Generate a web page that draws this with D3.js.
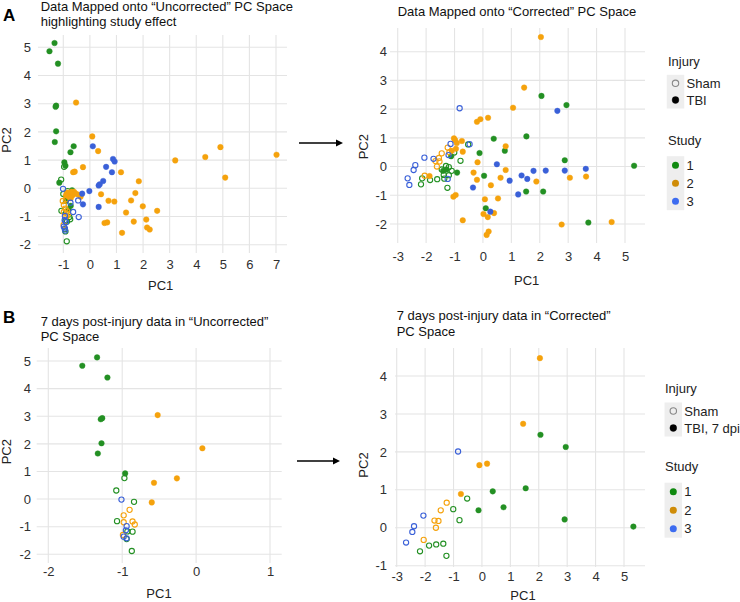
<!DOCTYPE html>
<html><head><meta charset="utf-8">
<script src="https://cdn.jsdelivr.net/npm/d3@7"></script>
<style>body{margin:0;background:#fff;} svg{display:block;font-family:"Liberation Sans",Arial,sans-serif;}</style>
</head><body><svg id="c" width="740" height="602"></svg>
<script>
// ---------- data: [PC1, PC2, study, sham(1) / TBI(0)] ----------
const uncorrectedAll = [
  // study 1 TBI
  [-1.33,5.15,1,0],[-1.52,4.86,1,0],[-1.20,4.42,1,0],[-1.27,2.93,1,0],[-1.29,2.89,1,0],[-1.27,2.02,1,0],[-1.32,1.64,1,0],[-0.96,0.92,1,0],
  [-0.61,1.49,1,0],[-0.73,1.28,1,0],[-0.92,0.80,1,0],[-1.15,0.20,1,0],[-0.67,-0.07,1,0],[-0.88,-0.30,1,0],[-0.72,-0.62,1,0],[-0.80,-0.75,1,0],[-0.90,-0.45,1,0],
  // study 1 sham
  [-0.97,0.76,1,1],[-1.08,0.31,1,1],[-0.84,-0.10,1,1],[-1.07,-0.80,1,1],[-0.86,-1.18,1,1],[-0.93,-1.17,1,1],[-0.94,-1.45,1,1],[-0.87,-1.88,1,1],
  [-0.77,-1.02,1,1],[-0.74,-1.10,1,1],[-0.92,-1.53,1,1],[-1.00,-0.20,1,1],
  // study 2 TBI
  [-0.52,3.04,2,0],[0.09,1.84,2,0],[-0.26,0.75,2,0],[-0.57,0.59,2,0],[-0.60,-0.12,2,0],[0.31,1.32,2,0],[-0.63,0.57,2,0],[1.17,0.57,2,0],
  [3.21,0.99,2,0],[4.34,1.11,2,0],[4.91,1.46,2,0],[5.09,0.38,2,0],[7.02,1.19,2,0],[1.84,0.25,2,0],[1.71,-0.17,2,0],[0.42,-0.21,2,0],
  [0.70,-0.44,2,0],[0.92,-0.47,2,0],[1.55,-0.43,2,0],[1.99,-0.64,2,0],[2.53,-0.80,2,0],[1.36,-0.86,2,0],[1.65,-1.18,2,0],[2.12,-1.11,2,0],
  [0.55,-1.23,2,0],[0.65,-1.21,2,0],[2.15,-1.39,2,0],[2.25,-1.46,2,0],[1.21,-1.58,2,0],
  [-0.85,-0.15,2,0],[-0.78,-0.20,2,0],[-0.70,-0.12,2,0],[-0.65,-0.25,2,0],[-0.55,-0.18,2,0],[-0.45,-0.22,2,0],[-0.35,-0.30,2,0],[-0.80,-0.30,2,0],[-0.90,-0.25,2,0],[-0.72,-0.35,2,0],
  // study 2 sham
  [-0.90,-0.39,2,1],[-0.98,-0.59,2,1],[-0.98,-0.84,2,1],[-0.86,-0.81,2,1],[-0.83,-0.92,2,1],[-0.99,-1.30,2,1],[-0.92,-0.72,2,1],[-1.02,-0.45,2,1],[-0.88,-1.00,2,1],
  // study 3 TBI
  [0.11,1.49,3,0],[0.87,1.04,3,0],[0.93,0.95,3,0],[0.61,0.76,3,0],[0.83,0.57,3,0],[0.50,0.26,3,0],[0.33,0.10,3,0],[0.37,0.14,3,0],
  [-0.02,-0.10,3,0],[-0.29,-0.19,3,0],[-0.26,-0.57,3,0],[0.33,-0.66,3,0],
  // study 3 sham
  [-1.01,-0.02,3,1],[-0.94,-0.98,3,1],[-0.95,-1.13,3,1],[-0.98,-1.36,3,1],[-0.94,-1.42,3,1],[-0.44,-0.43,3,1],[-0.73,-0.51,3,1],
  [-0.63,-0.84,3,1],[-0.42,-1.02,3,1],[-0.90,-1.20,3,1],[-0.93,-1.50,3,1]
];
const correctedAll = [
  // study 1 TBI
  [2.06,2.46,1,0],[2.94,2.14,1,0],[0.38,0.97,1,0],[1.53,1.05,1,0],[-0.12,0.47,1,0],[0.77,0.55,1,0],[2.88,0.22,1,0],[5.32,0.03,1,0],
  [-0.91,-0.21,1,0],[0.04,-0.32,1,0],[1.52,-0.87,1,0],[2.12,-0.87,1,0],[0.10,-1.45,1,0],[3.71,-1.95,1,0],[-1.12,0.36,1,0],[-1.40,-0.15,1,0],[-1.28,-0.10,1,0],
  // study 1 sham
  [-0.52,0.77,1,1],[-1.01,0.49,1,1],[-0.79,0.20,1,1],[-2.18,-0.62,1,1],[-1.86,-0.47,1,1],[-1.61,-0.44,1,1],[-1.36,-0.42,1,1],[-1.25,-0.74,1,1],
  [-2.14,-0.41,1,1],[-1.38,-0.29,1,1],[-1.20,-0.02,1,1],[-1.10,-0.15,1,1],[-1.30,0.02,1,1],[-1.45,-0.10,1,1],[-1.20,-0.30,1,1],
  // study 2 TBI
  [2.04,4.51,2,0],[1.45,2.75,2,0],[1.06,2.05,2,0],[-0.21,1.56,2,0],[-0.09,1.65,2,0],[0.18,1.70,2,0],[-0.74,0.89,2,0],[-1.02,0.98,2,0],
  [-0.98,0.92,2,0],[-0.92,0.82,2,0],[-0.71,0.52,2,0],[0.80,0.71,2,0],[-0.19,0.15,2,0],[0.80,-0.12,2,0],[-0.33,-0.21,2,0],[-0.21,-0.46,2,0],
  [0.28,-0.65,2,0],[0.62,-0.39,2,0],[1.88,-0.52,2,0],[3.06,-0.39,2,0],[3.63,-0.35,2,0],[0.07,-1.14,2,0],[0.53,-1.11,2,0],[-1.04,-1.05,2,0],
  [-0.96,-0.99,2,0],[0.39,-1.62,2,0],[0.02,-1.65,2,0],[0.17,-1.76,2,0],[-0.71,-1.87,2,0],[0.20,-2.26,2,0],[0.13,-2.38,2,0],[2.77,-2.02,2,0],
  [4.53,-1.93,2,0],[-1.88,-0.33,2,0],[-1.10,0.55,2,0],[-0.95,0.62,2,0],
  // study 2 sham
  [-1.24,0.66,2,1],[-1.45,0.46,2,1],[-1.67,0.19,2,1],[-1.53,0.18,2,1],[-1.62,0.00,2,1],[-2.05,-0.32,2,1],[-1.18,0.50,2,1],[-1.55,0.30,2,1],
  // study 3 TBI
  [2.62,1.94,3,0],[0.49,0.08,3,0],[-0.35,-0.73,3,0],[0.94,-0.49,3,0],[1.36,-0.31,3,0],[1.56,-0.43,3,0],[1.78,-0.15,3,0],[2.21,-0.14,3,0],
  [2.88,-0.14,3,0],[3.62,-0.08,3,0],[1.24,-0.97,3,0],[0.26,-1.57,3,0],
  // study 3 sham
  [-0.82,2.03,3,1],[-0.47,0.78,3,1],[-1.14,0.79,3,1],[-2.06,0.31,3,1],[-1.74,0.27,3,1],[-2.38,0.05,3,1],[-2.44,-0.12,3,1],[-2.65,-0.41,3,1],
  [-2.59,-0.64,3,1],[-1.21,0.40,3,1],[-1.24,-0.43,3,1]
];
const uncorrected7dpi = [
  [-1.34,5.13,1,0],[-1.54,4.83,1,0],[-1.20,4.40,1,0],[-1.29,2.89,1,0],[-1.27,2.93,1,0],[-1.28,2.02,1,0],[-1.33,1.65,1,0],[-0.96,0.93,1,0],
  [-0.97,0.76,1,1],[-1.08,0.31,1,1],[-0.84,-0.10,1,1],[-1.07,-0.80,1,1],[-0.86,-1.18,1,1],[-0.93,-1.17,1,1],[-0.94,-1.45,1,1],[-0.87,-1.88,1,1],
  [-0.52,3.04,2,0],[0.085,1.84,2,0],[-0.26,0.75,2,0],[-0.57,0.59,2,0],[-0.60,-0.12,2,0],
  [-0.90,-0.39,2,1],[-0.98,-0.59,2,1],[-0.98,-0.84,2,1],[-0.86,-0.81,2,1],[-0.83,-0.92,2,1],[-0.99,-1.30,2,1],
  [-1.01,-0.02,3,1],[-0.94,-0.98,3,1],[-0.95,-1.13,3,1],[-0.98,-1.36,3,1],[-0.94,-1.42,3,1]
];
const corrected7dpi = [
  [-0.12,0.46,1,0],[0.38,0.96,1,0],[0.76,0.54,1,0],[1.54,1.04,1,0],[2.06,2.45,1,0],[2.95,2.13,1,0],[2.91,0.22,1,0],[5.33,0.03,1,0],
  [-0.52,0.77,1,1],[-1.01,0.49,1,1],[-0.79,0.20,1,1],[-2.18,-0.62,1,1],[-1.86,-0.47,1,1],[-1.61,-0.44,1,1],[-1.36,-0.42,1,1],[-1.25,-0.74,1,1],
  [2.04,4.47,2,0],[1.45,2.74,2,0],[-0.09,1.65,2,0],[0.18,1.69,2,0],[-0.74,0.89,2,0],
  [-1.24,0.66,2,1],[-1.45,0.46,2,1],[-1.67,0.19,2,1],[-1.53,0.18,2,1],[-1.62,0.00,2,1],[-2.05,-0.32,2,1],
  [-0.84,2.01,3,1],[-2.06,0.32,3,1],[-2.39,0.04,3,1],[-2.45,-0.11,3,1],[-2.67,-0.39,3,1]
];
const studyLabels = ["1","2","3"];
const injuryLabelsA = ["Sham","TBI"];
const injuryLabelsB = ["Sham","TBI, 7 dpi"];
const ticksA1x = [-1,0,1,2,3,4,5,6,7], ticksA1y = [-2,-1,0,1,2,3,4,5];
const ticksA2x = [-3,-2,-1,0,1,2,3,4,5], ticksA2y = [-2,-1,0,1,2,3,4];
const ticksB1x = [-2,-1,0,1], ticksB1y = [-2,-1,0,1,2,3,4,5];
const ticksB2x = [-3,-2,-1,0,1,2,3,4,5], ticksB2y = [-1,0,1,2,3,4];

// ---------- styles ----------
const pointColors = {1:"#239023", 2:"#f5a20c", 3:"#3a60d8"};
const keyColors = ["#108a10","#cf8c08","#3d6cf0"];
const svg = d3.select("#c");
const FS = 13;

function panel(data, o){
  const x = d3.scaleLinear().domain(o.xd).range(o.xr);
  const y = d3.scaleLinear().domain(o.yd).range(o.yr);
  const g = svg.append("g");
  g.selectAll(".vg").data(o.xt).join("line")
    .attr("x1",d=>x(d)).attr("x2",d=>x(d)).attr("y1",o.top).attr("y2",o.bottom)
    .attr("stroke","#e4e4e4").attr("stroke-width",1.1);
  g.selectAll(".hg").data(o.yt).join("line")
    .attr("y1",d=>y(d)).attr("y2",d=>y(d)).attr("x1",o.left).attr("x2",o.right)
    .attr("stroke","#e4e4e4").attr("stroke-width",1.1);
  const ax = g.append("g").attr("transform",`translate(0,${o.bottom})`)
    .call(d3.axisBottom(x).tickValues(o.xt).tickSize(0).tickPadding(o.xLabelY-o.bottom-4.6).tickFormat(d=>String(d)));
  const ay = g.append("g").attr("transform",`translate(${o.left},0)`)
    .call(d3.axisLeft(y).tickValues(o.yt).tickSize(0).tickPadding(o.left-o.yLabelRight).tickFormat(d=>String(d)));
  [ax,ay].forEach(a=>{a.select(".domain").remove();
    a.selectAll("text").attr("font-size",FS).attr("fill","#303030").attr("font-family","Liberation Sans, Arial, sans-serif");});
  g.selectAll(".pt").data(data).join("circle")
    .attr("cx",d=>x(d[0])).attr("cy",d=>y(d[1]))
    .attr("r",d=>d[3]?2.6:2.8)
    .attr("fill",d=>d[3]?"none":pointColors[d[2]])
    .attr("stroke",d=>pointColors[d[2]])
    .attr("stroke-width",d=>d[3]?1.1:0.4);
  // titles
  o.title.forEach((t,i)=>g.append("text").attr("x",o.titleX).attr("y",o.titleY[i]).attr("font-size",FS).attr("fill","#111").text(t));
  g.append("text").attr("x",o.pc1[0]).attr("y",o.pc1[1]).attr("text-anchor","middle").attr("font-size",FS).attr("fill","#222").text("PC1");
  g.append("text").attr("transform",`translate(${o.pc2[0]},${o.pc2[1]}) rotate(-90)`).attr("text-anchor","middle").attr("font-size",FS).attr("fill","#222").text("PC2");
}

function legend(o, injuryLabels){
  const g = svg.append("g");
  g.append("text").attr("x",o.x).attr("y",o.injY).attr("font-size",FS).attr("fill","#222").text("Injury");
  g.append("rect").attr("x",o.kx-8.75).attr("y",o.injKeys[0]-8.5).attr("width",17.5).attr("height",o.injKeys[1]-o.injKeys[0]+17).attr("fill","#eeeeee");
  injuryLabels.forEach((lab,i)=>{
    g.append("circle").attr("cx",o.kx).attr("cy",o.injKeys[i]).attr("r",i===0?3.2:3.4)
      .attr("fill",i===0?"none":"#000").attr("stroke",i===0?"#888":"#000").attr("stroke-width",i===0?1.1:0.4);
    g.append("text").attr("x",o.kx+11).attr("y",o.injKeys[i]+4.6).attr("font-size",FS).attr("fill","#222").text(lab);
  });
  g.append("text").attr("x",o.x).attr("y",o.stY).attr("font-size",FS).attr("fill","#222").text("Study");
  g.append("rect").attr("x",o.kx-8.75).attr("y",o.stKeys[0]-9).attr("width",17.5).attr("height",o.stKeys[2]-o.stKeys[0]+18).attr("fill","#eeeeee");
  studyLabels.forEach((lab,i)=>{
    g.append("circle").attr("cx",o.kx).attr("cy",o.stKeys[i]).attr("r",3.5).attr("fill",keyColors[i]);
    g.append("text").attr("x",o.kx+11).attr("y",o.stKeys[i]+4.6).attr("font-size",FS).attr("fill","#222").text(lab);
  });
}

function arrow(x1,x2,yy){
  svg.append("line").attr("x1",x1).attr("x2",x2-6).attr("y1",yy).attr("y2",yy).attr("stroke","#000").attr("stroke-width",1.3);
  svg.append("path").attr("d",`M${x2},${yy} L${x2-7},${yy-3.5} L${x2-7},${yy+3.5} Z`).attr("fill","#000");
}

panel(uncorrectedAll,{xd:[-1,7],xr:[63.3,276],yd:[-2,5],yr:[244.7,47.3],left:38,right:287,top:35,bottom:253,
  xt:ticksA1x,yt:ticksA1y,xLabelY:264,yLabelRight:31,
  title:["Data Mapped onto \u201CUncorrected\u201D PC Space","highlighting study effect"],titleX:40.7,titleY:[10.5,26],
  pc1:[160.7,289.5],pc2:[11,140]});
panel(correctedAll,{xd:[-3,5],xr:[397.7,625],yd:[-2,4],yr:[224,51.7],left:390,right:645,top:28,bottom:243,
  xt:ticksA2x,yt:ticksA2y,xLabelY:256.7,yLabelRight:387,
  title:["Data Mapped onto \u201CCorrected\u201D PC Space"],titleX:397.7,titleY:[16],
  pc1:[526.7,284.5],pc2:[367.6,146.7]});
panel(uncorrected7dpi,{xd:[-2,1],xr:[48.3,270],yd:[-2,5],yr:[554.3,361],left:36.7,right:281.7,top:348,bottom:563,
  xt:ticksB1x,yt:ticksB1y,xLabelY:571.7,yLabelRight:31,
  title:["7 days post-injury data in \u201CUncorrected\u201D","PC Space"],titleX:40.7,titleY:[325.5,341],
  pc1:[159,597.5],pc2:[11.2,451.7]});
panel(corrected7dpi,{xd:[-3,5],xr:[396.7,624],yd:[-1,4],yr:[565.7,376],left:395,right:645,top:348,bottom:567,
  xt:ticksB2x,yt:ticksB2y,xLabelY:576.7,yLabelRight:387,
  title:["7 days post-injury data in \u201CCorrected\u201D","PC Space"],titleX:396.7,titleY:[320,335.5],
  pc1:[523,599.5],pc2:[368,465]});

legend({x:668,kx:675.5,injY:66.3,injKeys:[83.3,100],stY:144.6,stKeys:[165.2,183.2,201.2]}, injuryLabelsA);
legend({x:665,kx:673.3,injY:393,injKeys:[411,428],stY:471.3,stKeys:[491.7,510.2,528.7]}, injuryLabelsB);

arrow(299,343,143);
arrow(297,340,461);

svg.append("text").attr("x",3).attr("y",20.5).attr("font-size",17).attr("font-weight","bold").text("A");
svg.append("text").attr("x",3).attr("y",323).attr("font-size",17).attr("font-weight","bold").text("B");
</script></body></html>
